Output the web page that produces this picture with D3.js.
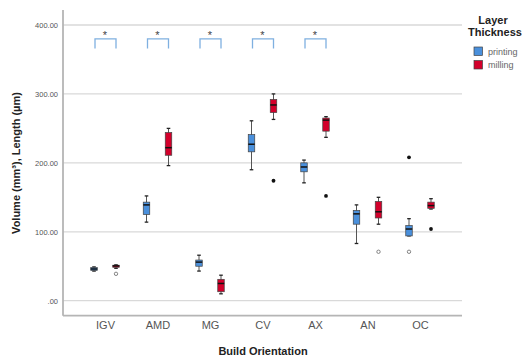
<!DOCTYPE html>
<html lang="en">
  <head>
    <meta charset="UTF-8" />
    <title>Build Orientation boxplot</title>
  </head>
  <style>
    body {
      margin: 0;
      background: #fff;
    }
    svg {
      font-family: Arial, "Liberation Sans", sans-serif;
      display: block;
    }
  </style>
  <body>
    <svg id="chart" width="523" height="361"></svg>

    <script src="https://cdnjs.cloudflare.com/ajax/libs/d3/7.8.5/d3.min.js"></script>
    <script>
      // data
      const categories = ["IGV", "AMD", "MG", "CV", "AX", "AN", "OC"];
      const series = ["printing", "milling"];
      const yTicks = [0, 100, 200, 300, 400];

      // [whisker low, q1, median, q3, whisker high] per category
      const printingBoxes = [
        [43, 44, 46, 48, 49],
        [114, 125, 139, 143, 152],
        [43, 50, 56, 59, 66],
        [190, 216, 227, 241, 261],
        [171, 187, 194, 200, 204],
        [83, 111, 126, 131, 139],
        [94, 94, 104, 109, 119],
      ];
      const millingBoxes = [
        [47, 48.5, 50.5, 51.5, 52],
        [196, 211, 222, 244, 250],
        [10, 13, 25, 31, 37],
        [263, 273, 284, 292, 300],
        [237, 246, 262, 265, 267],
        [111, 120, 129, 144, 150],
        [133, 134, 138, 143, 148],
      ];

      // outliers: [category, series, value, filled]
      const outliers = [
        ["IGV", "milling", 39, false],
        ["CV", "milling", 174, true],
        ["AX", "milling", 152, true],
        ["AN", "milling", 71, false],
        ["OC", "printing", 208, true],
        ["OC", "printing", 71, false],
        ["OC", "milling", 104, true],
      ];

      const significant = ["IGV", "AMD", "MG", "CV", "AX"];

      const colors = { printing: "#4a90dc", milling: "#d3002b" };

      const svg = d3.select("#chart");

      const x = d3.scalePoint().domain(categories).range([63, 462]).padding(0.8);
      const xs = d3.scalePoint().domain(series).range([-11, 11]);
      const y = d3.scaleLinear().domain([0, 400]).range([300.7, 25]);

      // grid lines
      svg
        .append("g")
        .selectAll("line")
        .data(yTicks)
        .join("line")
        .attr("x1", 63)
        .attr("x2", 462)
        .attr("y1", (d) => y(d))
        .attr("y2", (d) => y(d))
        .attr("stroke", "#d9d9d9")
        .attr("stroke-width", 1.3);

      // y axis
      const fmt = (d) => d3.format(".2f")(d).replace(/^0\./, ".");
      const yAxis = svg
        .append("g")
        .attr("transform", "translate(63,0)")
        .call(d3.axisLeft(y).tickValues(yTicks).tickFormat(fmt).tickSize(0).tickPadding(5));
      yAxis.select(".domain").remove();
      yAxis.selectAll("text").attr("font-size", 7.5).attr("fill", "#555").attr("font-family", null);

      // x axis
      const xAxis = svg
        .append("g")
        .attr("transform", "translate(0,315.7)")
        .call(d3.axisBottom(x).tickSize(0).tickPadding(6));
      xAxis.select(".domain").remove();
      xAxis.selectAll("text").attr("font-size", 11).attr("fill", "#555").attr("font-family", null);

      // axis lines
      svg
        .append("line")
        .attr("x1", 63)
        .attr("x2", 63)
        .attr("y1", 10)
        .attr("y2", 315.7)
        .attr("stroke", "#b5b5b5")
        .attr("stroke-width", 1.8);
      svg
        .append("line")
        .attr("x1", 63)
        .attr("x2", 462)
        .attr("y1", 315.7)
        .attr("y2", 315.7)
        .attr("stroke", "#b5b5b5")
        .attr("stroke-width", 1.8);

      // boxes
      const boxData = [];
      categories.forEach((c, i) => {
        boxData.push({ cat: c, s: "printing", v: printingBoxes[i] });
        boxData.push({ cat: c, s: "milling", v: millingBoxes[i] });
      });

      const bw = 6.5;
      const boxes = svg
        .append("g")
        .selectAll("g")
        .data(boxData)
        .join("g")
        .attr("transform", (d) => `translate(${x(d.cat) + xs(d.s)},0)`);

      boxes
        .append("line")
        .attr("y1", (d) => y(d.v[0]))
        .attr("y2", (d) => y(d.v[4]))
        .attr("stroke", "#555")
        .attr("stroke-width", 1);
      boxes
        .selectAll(".cap")
        .data((d) => [d.v[0], d.v[4]])
        .join("line")
        .attr("class", "cap")
        .attr("x1", -1.8)
        .attr("x2", 1.8)
        .attr("y1", (d) => y(d))
        .attr("y2", (d) => y(d))
        .attr("stroke", "#222")
        .attr("stroke-width", 1.3);
      boxes
        .append("rect")
        .attr("x", -bw / 2)
        .attr("width", bw)
        .attr("y", (d) => y(d.v[3]))
        .attr("height", (d) => Math.max(y(d.v[1]) - y(d.v[3]), 1.5))
        .attr("fill", (d) => colors[d.s])
        .attr("stroke", "#444")
        .attr("stroke-width", 0.7);
      boxes
        .append("line")
        .attr("x1", -bw / 2)
        .attr("x2", bw / 2)
        .attr("y1", (d) => y(d.v[2]))
        .attr("y2", (d) => y(d.v[2]))
        .attr("stroke", "#111")
        .attr("stroke-width", 1.5);

      // outliers
      svg
        .append("g")
        .selectAll("circle")
        .data(outliers)
        .join("circle")
        .attr("cx", (d) => x(d[0]) + xs(d[1]))
        .attr("cy", (d) => y(d[2]))
        .attr("r", (d) => (d[3] ? 1.9 : 1.7))
        .attr("fill", (d) => (d[3] ? "#111" : "none"))
        .attr("stroke", (d) => (d[3] ? "none" : "#777"))
        .attr("stroke-width", 0.9);

      // significance brackets
      const br = svg.append("g").selectAll("g").data(significant).join("g");
      br.append("path")
        .attr("d", (d) => {
          const x0 = x(d) + xs("printing") + 1;
          const x1 = x(d) + xs("milling");
          return `M${x0},${y(366)}V${y(380)}H${x1}V${y(366)}`;
        })
        .attr("fill", "none")
        .attr("stroke", "#7fb0e0")
        .attr("stroke-width", 1.3);
      br.append("text")
        .attr("x", (d) => x(d))
        .attr("y", y(380) + 0.5)
        .attr("text-anchor", "middle")
        .attr("font-size", 11)
        .attr("fill", "#444")
        .text("*");

      // axis titles
      svg
        .append("text")
        .attr("x", 263)
        .attr("y", 355)
        .attr("text-anchor", "middle")
        .attr("font-size", 11)
        .attr("font-weight", "bold")
        .attr("fill", "#222")
        .text("Build Orientation");
      svg
        .append("text")
        .attr("transform", "translate(20,163) rotate(-90)")
        .attr("text-anchor", "middle")
        .attr("font-size", 11)
        .attr("font-weight", "bold")
        .attr("fill", "#222")
        .text("Volume (mm³), Length (µm)");

      // legend
      const lg = svg.append("g");
      lg.append("text")
        .attr("x", 493)
        .attr("y", 24)
        .attr("text-anchor", "middle")
        .attr("font-size", 11)
        .attr("font-weight", "bold")
        .attr("fill", "#222")
        .text("Layer");
      lg.append("text")
        .attr("x", 495)
        .attr("y", 36)
        .attr("text-anchor", "middle")
        .attr("font-size", 11)
        .attr("font-weight", "bold")
        .attr("fill", "#222")
        .text("Thickness");
      const li = lg
        .selectAll(".item")
        .data(series)
        .join("g")
        .attr("class", "item")
        .attr("transform", (d, i) => `translate(474,${47 + i * 13.5})`);
      li.append("rect")
        .attr("width", 8.5)
        .attr("height", 8.5)
        .attr("fill", (d) => colors[d])
        .attr("stroke", "#444")
        .attr("stroke-width", 0.7);
      li.append("text")
        .attr("x", 14)
        .attr("y", 7.5)
        .attr("font-size", 9)
        .attr("fill", "#666")
        .text((d) => d);
    </script>
  </body>
</html>
